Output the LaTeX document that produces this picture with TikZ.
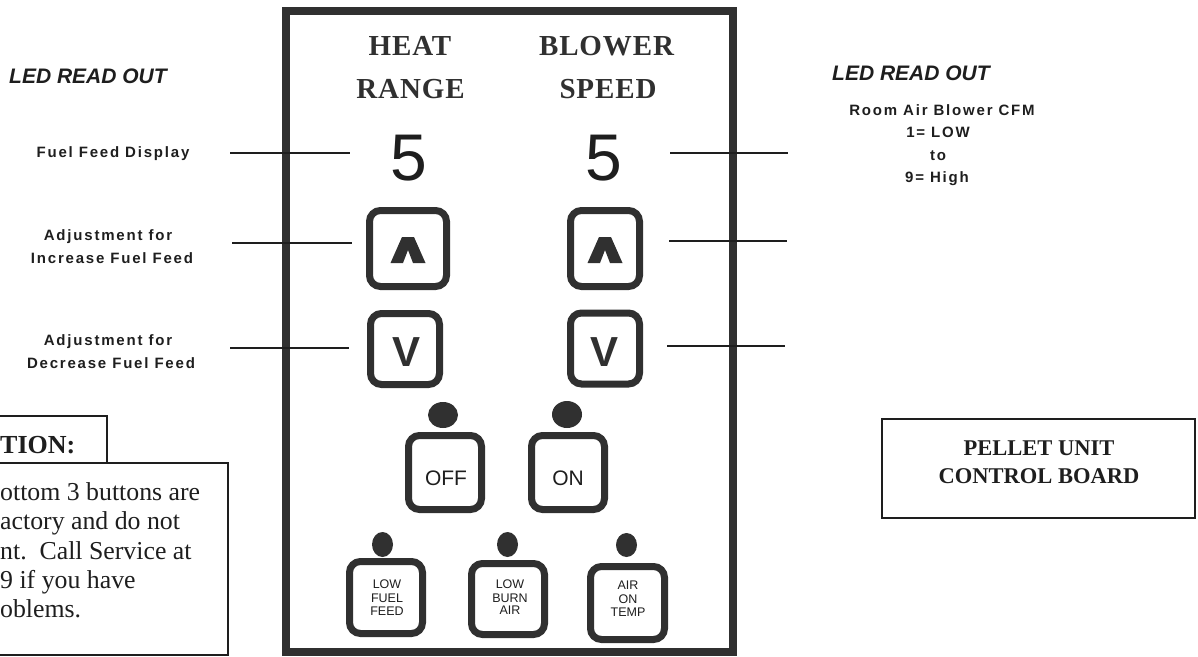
\documentclass[tikz,border=0pt]{standalone}
\usepackage{fontspec}
\setmainfont{Liberation Serif}
\setsansfont{Liberation Sans}
\definecolor{ink}{HTML}{303030}
\definecolor{txt}{HTML}{1E1E1E}
\newcommand\myfs[2]{\fontsize{#1}{#2}\selectfont}
\begin{document}
\begin{tikzpicture}[x=1pt,y=-1pt,
  btn/.style={draw=ink, line width=7pt, rounded corners=11pt, fill=white, inner sep=0pt},
  frame/.style={draw=ink, line width=8pt, inner sep=0pt},
  thinbox/.style={draw=txt, line width=1.4pt, inner sep=0pt},
  lead/.style={draw=txt, line width=1.5pt},
  title/.style={text=ink, inner sep=0pt, anchor=base, font=\bfseries\myfs{29}{30}\addfontfeature{LetterSpace=3}},
  digit/.style={text=txt, inner sep=0pt, anchor=base, font=\sffamily\myfs{66}{70}},
  vlet/.style={text=ink, inner sep=0pt, font=\sffamily\bfseries\myfs{42}{42}},
  bigbtn/.style={text=txt, inner sep=0pt, anchor=base, font=\sffamily\myfs{21}{22}},
  smallbtn/.style={text=txt, inner sep=0pt, anchor=base, font=\sffamily\myfs{12.5}{13}},
  ledhead/.style={text=txt, inner sep=0pt, anchor=base west, font=\sffamily\bfseries\itshape\myfs{21}{22}},
  label/.style={text=txt, inner sep=0pt, anchor=base, font=\sffamily\bfseries\myfs{15}{16}\addfontfeature{LetterSpace=12}},
  caution/.style={text=txt, inner sep=0pt, anchor=base west, font=\myfs{25.8}{29}},
  boardtxt/.style={text=txt, inner sep=0pt, anchor=base, font=\bfseries\myfs{22.5}{24}},
  dot/.style={fill=ink}
]
\useasboundingbox (0,0) rectangle (1198,656);

% control panel frame
\node[frame, minimum width=447pt, minimum height=641pt] (panel) at (509,331.5) {};

% column titles
\node[title] (heat) at (410,55) {HEAT};
\node[title] (range) at (410.5,98) {RANGE};
\node[title] (blower) at (606.5,55) {BLOWER};
\node[title] (speed) at (608,98) {SPEED};

% LED digits
\node[digit] (dL) at (409,180) {5};
\node[digit] (dR) at (604,180) {5};

% arrow buttons
\node[btn, minimum width=77pt, minimum height=76pt] (upL) at (408,248.5) {};
\node[btn, minimum width=69pt, minimum height=76pt] (upR) at (605,248.5) {};
\node[btn, minimum width=69pt, minimum height=71pt] (dnL) at (405,349) {};
\node[btn, minimum width=69pt, minimum height=71pt] (dnR) at (605,348.5) {};
\fill[ink, shift={(upL.center)}] (-17.5,14.5) -- (-6,-11.5) -- (6,-11.5) -- (17.5,14.5) -- (5,14.5) -- (0,1.5) -- (-5,14.5) -- cycle;
\fill[ink, shift={(upR.center)}] (-17.5,14.5) -- (-6,-11.5) -- (6,-11.5) -- (17.5,14.5) -- (5,14.5) -- (0,1.5) -- (-5,14.5) -- cycle;
\node[vlet] (vL) at (407,352) {V};
\node[vlet] (vR) at (604.5,352) {V};

% OFF / ON
\fill[dot] (443,415) ellipse [x radius=15, y radius=13];
\fill[dot] (567,414.5) ellipse [x radius=15, y radius=13.5];
\node[btn, minimum width=73pt, minimum height=74pt] (off) at (445,472.5) {};
\node[btn, minimum width=73pt, minimum height=74pt] (on) at (568,472.5) {};
\node[bigbtn] (offt) at (446,485) {OFF};
\node[bigbtn] (ont) at (568,485) {ON};

% bottom status buttons
\fill[dot] (382.5,544.5) ellipse [x radius=10.5, y radius=12.5];
\fill[dot] (507.5,544.5) ellipse [x radius=10.5, y radius=12.5];
\fill[dot] (626.5,545) ellipse [x radius=10.5, y radius=12];
\node[btn, minimum width=73pt, minimum height=72pt] (lff) at (386,597.5) {};
\node[btn, minimum width=73pt, minimum height=71pt] (lba) at (508,599) {};
\node[btn, minimum width=74pt, minimum height=73pt] (aot) at (627.5,603) {};
\node[smallbtn] (lff1) at (387,588) {LOW};
\node[smallbtn] (lff2) at (387,602) {FUEL};
\node[smallbtn] (lff3) at (387,615) {FEED};
\node[smallbtn] (lba1) at (510,588) {LOW};
\node[smallbtn] (lba2) at (510,602) {BURN};
\node[smallbtn] (lba3) at (510,614) {AIR};
\node[smallbtn] (aot1) at (628,589) {AIR};
\node[smallbtn] (aot2) at (628,603) {ON};
\node[smallbtn] (aot3) at (628,616) {TEMP};

% left labels
\node[ledhead] (ledL) at (9,83) {LED READ OUT};
\node[label] (ffd) at (113,157) {Fuel Feed Display};
\node[label] (adj1a) at (108,240) {Adjustment for};
\node[label] (adj1b) at (112,263) {Increase Fuel Feed};
\node[label] (adj2a) at (108,345) {Adjustment for};
\node[label] (adj2b) at (111,368) {Decrease Fuel Feed};

% right labels
\node[ledhead] (ledR) at (832,80) {LED READ OUT};
\node[label] (rab1) at (942,115) {Room Air Blower CFM};
\node[label] (rab2) at (938,137) {1= LOW};
\node[label] (rab3) at (938,160) {to};
\node[label] (rab4) at (937,182) {9= High};

% leader lines
\coordinate (l1a) at (230,153); \coordinate (l1b) at (350,153);
\coordinate (l2a) at (232,243); \coordinate (l2b) at (352,243);
\coordinate (l3a) at (230,348); \coordinate (l3b) at (349,348);
\coordinate (r1a) at (670,153); \coordinate (r1b) at (788,153);
\coordinate (r2a) at (669,241); \coordinate (r2b) at (787,241);
\coordinate (r3a) at (667,346); \coordinate (r3b) at (785,346);
\draw[lead] (l1a) -- (l1b);
\draw[lead] (l2a) -- (l2b);
\draw[lead] (l3a) -- (l3b);
\draw[lead] (r1a) -- (r1b);
\draw[lead] (r2a) -- (r2b);
\draw[lead] (r3a) -- (r3b);

% caution box
\node[thinbox, minimum width=112pt, minimum height=47pt] (ctab) at (51,439.5) {};
\node[thinbox, minimum width=233pt, minimum height=192pt] (cbox) at (111.5,559) {};
\node[caution, font=\bfseries\myfs{26}{29}] (ctitle) at (0,453) {TION:};
\node[caution] (c1) at (0,500) {ottom 3 buttons are};
\node[caution] (c2) at (0,529) {actory and do not};
\node[caution] (c3) at (0,559) {nt.\ \ Call Service at};
\node[caution] (c4) at (0,588) {9 if you have};
\node[caution] (c5) at (0,617) {oblems.};

% board title box
\node[thinbox, minimum width=313pt, minimum height=99pt] (board) at (1038.5,468.5) {};
\node[boardtxt] (b1) at (1039,455) {PELLET UNIT};
\node[boardtxt] (b2) at (1039,483) {CONTROL BOARD};
\end{tikzpicture}
\end{document}
